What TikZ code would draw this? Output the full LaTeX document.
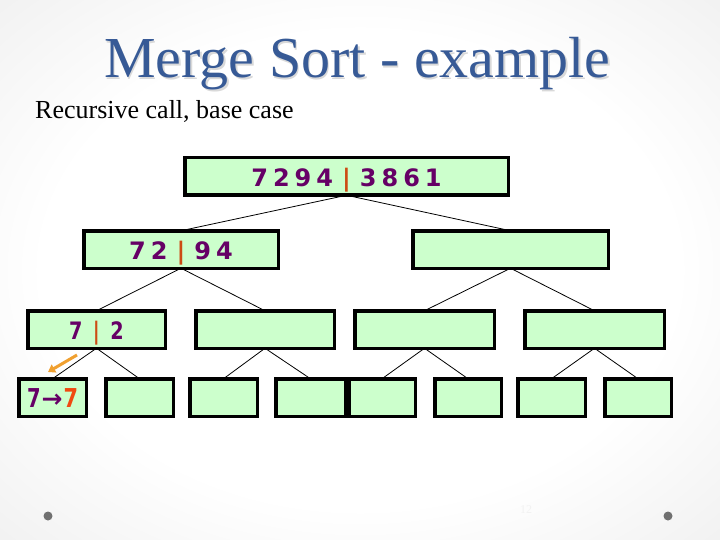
\documentclass[tikz,border=0pt]{standalone}
\usepackage{fontspec}
\usepackage{graphicx}
\usetikzlibrary{arrows.meta}
\newfontfamily\dvsans{DejaVu Sans}
\newfontfamily\lserif{Liberation Serif}
\definecolor{boxgreen}{HTML}{CCFFCC}
\definecolor{digitpurple}{HTML}{660066}
\definecolor{barorange}{HTML}{CC4C14}
\definecolor{hotorange}{HTML}{F04A10}
\definecolor{arrowgold}{HTML}{F0A030}
\definecolor{titleblue}{RGB}{55,90,150}
\definecolor{dotgray}{HTML}{707070}
\newcommand\digitgap{\hspace{5pt}}
\newcommand\bargap{\hspace{9pt}}
\newcommand\orbar{\textcolor{barorange}{|}}
\pgfdeclareradialshading{slidebg}{\pgfpoint{0bp}{0bp}}{color(0bp)=(white); color(22bp)=(white); color(45bp)=(black!9); color(71bp)=(black!20)}
\begin{document}
\begin{tikzpicture}[x=1pt,y=-1pt,
  cell/.style={draw=black, line width=3.5pt, fill=boxgreen, inner sep=0pt, outer sep=0pt,
    minimum height=37.5pt, text=digitpurple, text depth=0pt,
    font=\dvsans\bfseries\fontsize{24}{26}\selectfont, text height=19.5pt},
  smallcell/.style={cell, font=\dvsans\bfseries\fontsize{24}{26}\selectfont, text height=19pt},
  leafcell/.style={cell, font=\dvsans\bfseries\fontsize{26}{28}\selectfont, text height=19pt},
  link/.style={draw=black, line width=0.8pt},
  hint/.style={draw=arrowgold, line width=3pt, -{Triangle[width=9pt,length=7pt]}}]
\useasboundingbox (0,0) rectangle (720,540);
\shade[shading=slidebg] (0,0) rectangle (720,540);

% title (with its soft shadow) and subtitle
\node[anchor=base, inner sep=0pt, text=black!15, font=\lserif\fontsize{58}{60}\selectfont] (titleshadow) at (359,79.5) {Merge Sort - example};
\node[anchor=base, inner sep=0pt, text=titleblue, font=\lserif\fontsize{58}{60}\selectfont] (title) at (357.5,78) {Merge Sort - example};
\node[anchor=base west, inner sep=0pt, text=black, font=\lserif\fontsize{26}{28}\selectfont] (subtitle) at (35,119) {Recursive call, base case};

% level 1
\node[cell, minimum width=323.5pt] (root) at (346.5,176.5)
  {7\digitgap 2\digitgap 9\digitgap 4\bargap\orbar\bargap 3\digitgap 8\digitgap 6\digitgap 1};
% level 2
\node[cell, minimum width=194.5pt] (la) at (181,249.5) {7\digitgap 2\bargap\orbar\bargap 9\digitgap 4};
\node[cell, minimum width=195.5pt] (lb) at (510.5,249.5) {};
% level 3
\node[smallcell, minimum width=137.5pt] (ma) at (96.5,329.5) {\scalebox{0.8}[1]{7\hspace{13pt}\orbar\hspace{13pt}2}};
\node[cell, minimum width=138.5pt] (mb) at (265,329.5) {};
\node[cell, minimum width=139.5pt] (mc) at (424.5,329.5) {};
\node[cell, minimum width=139.5pt] (md) at (594.5,329.5) {};
% level 4
\node[leafcell, minimum width=67.5pt] (sa) at (52.5,397.5)
  {\scalebox{0.75}[1]{7}\hspace{1pt}{\fontsize{25}{25}\selectfont →}\hspace{1pt}\scalebox{0.8}[1]{\textcolor{hotorange}{7}}};
\node[cell, minimum width=67.5pt] (sb) at (139.5,397.5) {};
\node[cell, minimum width=67.5pt] (sc) at (223.5,397.5) {};
\node[cell, minimum width=69.5pt] (sd) at (310.5,397.5) {};
\node[cell, minimum width=66.5pt] (se) at (382,397.5) {};
\node[cell, minimum width=66.5pt] (sf) at (468,397.5) {};
\node[cell, minimum width=67.5pt] (sg) at (551.5,397.5) {};
\node[cell, minimum width=66.5pt] (sh) at (638,397.5) {};

% connectors
\draw[link] (root.south) -- (la.north);
\draw[link] (root.south) -- (lb.north);
\draw[link] (la.south) -- (ma.north);
\draw[link] (la.south) -- (mb.north);
\draw[link] (lb.south) -- (mc.north);
\draw[link] (lb.south) -- (md.north);
\draw[link] (ma.south) -- (sa.north);
\draw[link] (ma.south) -- (sb.north);
\draw[link] (mb.south) -- (sc.north);
\draw[link] (mb.south) -- (sd.north);
\draw[link] (mc.south) -- (se.north);
\draw[link] (mc.south) -- (sf.north);
\draw[link] (md.south) -- (sg.north);
\draw[link] (md.south) -- (sh.north);

% orange hint arrow
\coordinate (hintstart) at (77,355);
\coordinate (hintend) at (48,372);
\draw[hint] (hintstart) -- (hintend);

% footer
\fill[dotgray] (48,516) circle[radius=4.5pt];
\fill[dotgray] (668,516) circle[radius=4.5pt];
\node[inner sep=0pt, text=black!5, font=\lserif\fontsize{12}{12}\selectfont] (pagenum) at (526,510) {12};
\end{tikzpicture}
\end{document}
